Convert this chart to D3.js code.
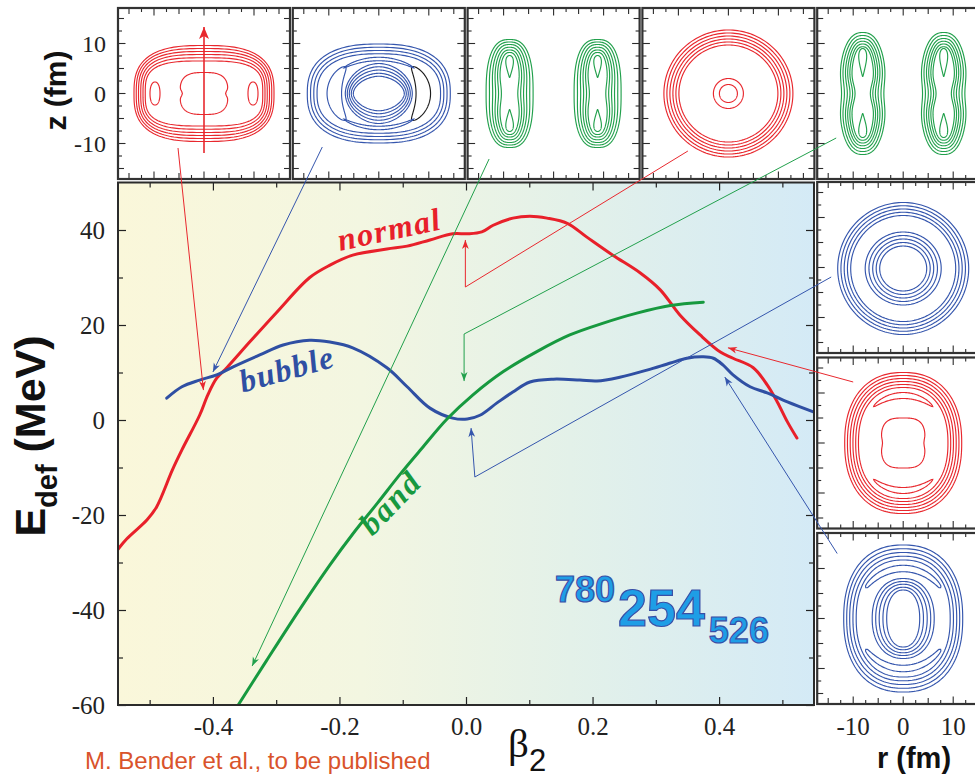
<!DOCTYPE html>
<html>
<head>
<meta charset="utf-8">
<title>Deformation energy curves</title>
<script src="https://cdn.jsdelivr.net/npm/d3@7/dist/d3.min.js"></script>
<style>
  html, body { margin: 0; padding: 0; background: #fff; }
  svg { display: block; }
  text { white-space: pre; }
</style>
</head>
<body>
<svg id="chart" width="975" height="777"></svg>
<script>
// ---------------- energy curves E_def(beta2), MeV ----------------
const normalBeta = [-0.550,-0.536,-0.504,-0.489,-0.464,-0.449,-0.421,-0.408,-0.394,-0.378,-0.342,-0.299,-0.247,-0.215,-0.179,-0.125,-0.093,-0.057,-0.021,0.002,0.025,0.043,0.074,0.101,0.128,0.160,0.191,0.232,0.275,0.307,0.338,0.370,0.402,0.422,0.454,0.476,0.492,0.508,0.523];
const normalE    = [-27.2,-25.0,-21.0,-18.3,-10.5,-6.3,1.0,5.3,8.8,11.0,16.4,22.7,30.0,32.6,34.7,36.0,36.6,37.9,39.2,39.2,39.6,41.0,42.5,42.9,42.5,41.4,38.5,34.7,31.0,27.4,22.1,17.9,14.3,13.0,11.0,7.4,3.8,-0.4,-3.8];

const bubbleBeta = [-0.473,-0.449,-0.421,-0.394,-0.368,-0.326,-0.289,-0.247,-0.215,-0.179,-0.125,-0.093,-0.057,-0.021,0.002,0.022,0.049,0.074,0.101,0.138,0.180,0.207,0.243,0.286,0.323,0.349,0.375,0.391,0.406,0.422,0.449,0.476,0.508,0.549];
const bubbleE    = [4.6,7.0,8.4,9.5,11.2,13.7,15.8,16.8,16.4,15.2,11.0,7.0,2.5,0.4,0.2,1.0,3.6,5.9,8.0,8.6,8.4,8.2,9.0,10.5,12.0,13.0,13.3,13.0,11.6,9.5,7.0,5.7,3.8,1.7];

const bandBeta = [-0.360,-0.315,-0.262,-0.215,-0.179,-0.140,-0.104,-0.070,-0.030,0.011,0.059,0.112,0.164,0.217,0.270,0.323,0.375];
const bandE    = [-60.0,-50.6,-39.7,-30.5,-24.0,-17.5,-11.4,-6.0,0.2,5.3,10.2,14.4,17.9,20.4,22.5,24.1,24.8];

// ---------------- axis ticks ----------------
const xTicks = [-0.4, -0.2, 0.0, 0.2, 0.4];
const xMinorTicks = [-0.5, -0.3, -0.1, 0.1, 0.3, 0.5];
const yTicks = [-60, -40, -20, 0, 20, 40];
const yMinorTicks = [-50, -30, -10, 10, 30];
const panelTicks = [-15, -12.5, -10, -7.5, -5, -2.5, 0, 2.5, 5, 7.5, 10, 12.5, 15];
const panelTickLabels = [-10, 0, 10];

// ---------------- density contours (r, z in fm) ----------------
// ring: superellipse (a, b, exponent n, optional waist w), drop: tear-shaped island,
// arc: crescent following an ellipse between angles t0..t1 (deg)
const shapesOblate = [
  {k:'ring', r:0, z:0, a:14.0,  b:9.6,  n:2.8},
  {k:'ring', r:0, z:0, a:13.55, b:9.0,  n:2.9},
  {k:'ring', r:0, z:0, a:13.1,  b:8.4,  n:3.0},
  {k:'ring', r:0, z:0, a:12.65, b:7.8,  n:3.1},
  {k:'ring', r:0, z:0, a:12.2,  b:7.15, n:3.2},
  {k:'ring', r:0, z:0, a:11.75, b:6.5,  n:3.3},
  {k:'ring', r:-9.8, z:0, a:1.0, b:2.3, n:2.2},
  {k:'ring', r: 9.8, z:0, a:1.0, b:2.3, n:2.2},
  {k:'ring', r:0, z:0, a:4.8, b:4.2, n:3.0, w:0.1, sw:0.03}
];
const shapesBubbleOblate = [
  {k:'ring', r:0, z:0, a:14.3,  b:9.9,  n:2.5},
  {k:'ring', r:0, z:0, a:13.65, b:9.25, n:2.5},
  {k:'ring', r:0, z:0, a:13.0,  b:8.6,  n:2.5},
  {k:'ring', r:0, z:0, a:12.35, b:7.95, n:2.5},
  {k:'arc',  r:0, z:0, a:8.9, b:8.0, t0:138, t1:222, h:1.45},
  {k:'arc',  r:0, z:0, a:8.9, b:8.0, t0:-42, t1:42,  h:1.45, c:'#1d1d1d'},
  {k:'arc',  r:0, z:0, a:10.4, b:6.9, t0:48,  t1:132, h:0.35},
  {k:'arc',  r:0, z:0, a:10.4, b:6.9, t0:228, t1:312, h:0.35},
  {k:'ring', r:0, z:0, a:6.7, b:6.0,  n:1.9},
  {k:'ring', r:0, z:0, a:6.3, b:5.35, n:1.9},
  {k:'ring', r:0, z:0, a:5.9, b:4.7,  n:1.9},
  {k:'ring', r:0, z:0, a:5.5, b:4.05, n:1.85},
  {k:'ring', r:0, z:0, a:5.1, b:3.45, n:1.8}
];
const bandSides = [-8.8, 8.8];
const shapesBandBlob = [
  {k:'ring', z:0, a:4.7,  b:10.8, n:2.6, w:0.0},
  {k:'ring', z:0, a:4.15, b:10.3, n:2.6, w:0.03},
  {k:'ring', z:0, a:3.6,  b:9.8,  n:2.6, w:0.06},
  {k:'ring', z:0, a:3.1,  b:9.25, n:2.6, w:0.1},
  {k:'ring', z:0, a:2.6,  b:8.7,  n:2.6, w:0.15},
  {k:'ring', z:0, a:2.1,  b:8.2,  n:2.6, w:0.22},
  {k:'drop', z:5.4,  a:1.1, b:2.2, p:0.7},
  {k:'drop', z:-5.4, a:1.1, b:2.2, p:-0.7}
];
const shapesSpherical = [
  {k:'ring', r:0, z:0, a:12.9, b:12.7, n:2},
  {k:'ring', r:0, z:0, a:12.3, b:12.1, n:2},
  {k:'ring', r:0, z:0, a:11.7, b:11.5, n:2},
  {k:'ring', r:0, z:0, a:11.1, b:10.9, n:2},
  {k:'ring', r:0, z:0, a:10.5, b:10.3, n:2},
  {k:'ring', r:0, z:0, a:9.9,  b:9.7,  n:2},
  {k:'ring', r:0, z:0, a:3.0,  b:3.0,  n:2},
  {k:'ring', r:0, z:0, a:1.8,  b:1.8,  n:2}
];
const bandProlateSides = [-8.1, 8.1];
const shapesBandProlateBlob = [
  {k:'ring', z:0, a:4.7,  b:12.2,  n:2.4, w:0.10, sw:0.08},
  {k:'ring', z:0, a:4.2,  b:11.6,  n:2.4, w:0.13, sw:0.08},
  {k:'ring', z:0, a:3.7,  b:11.0,  n:2.4, w:0.17, sw:0.08},
  {k:'ring', z:0, a:3.25, b:10.45, n:2.4, w:0.22, sw:0.08},
  {k:'ring', z:0, a:2.8,  b:9.9,   n:2.4, w:0.28, sw:0.08},
  {k:'ring', z:0, a:2.35, b:9.35,  n:2.4, w:0.35, sw:0.08},
  {k:'drop', z:6.2,  a:1.15, b:2.8, p:0.7},
  {k:'drop', z:-6.4, a:1.15, b:2.4, p:-0.7}
];
const shapesBubbleSpherical = [
  {k:'ring', r:0, z:-0.2, a:13.1,  b:13.2,  n:2},
  {k:'ring', r:0, z:-0.2, a:12.45, b:12.55, n:2},
  {k:'ring', r:0, z:-0.2, a:11.8,  b:11.9,  n:2},
  {k:'ring', r:0, z:-0.2, a:11.15, b:11.25, n:2},
  {k:'ring', r:0, z:-0.2, a:10.5,  b:10.6,  n:2},
  {k:'ring', r:0, z:-0.2, a:7.6,   b:7.3,   n:2},
  {k:'ring', r:0, z:-0.2, a:6.85,  b:6.6,   n:2},
  {k:'ring', r:0, z:-0.2, a:6.1,   b:5.9,   n:2},
  {k:'ring', r:0, z:-0.2, a:5.4,   b:5.2,   n:2},
  {k:'ring', r:0, z:-0.2, a:4.7,   b:4.5,   n:2}
];
const shapesProlate = [
  {k:'ring', r:0, z:0, a:11.7,  b:14.1, n:2.3},
  {k:'ring', r:0, z:0, a:11.15, b:13.5, n:2.3},
  {k:'ring', r:0, z:0, a:10.6,  b:12.9, n:2.3},
  {k:'ring', r:0, z:0, a:10.05, b:12.3, n:2.3},
  {k:'ring', r:0, z:0, a:9.5,   b:11.7, n:2.3},
  {k:'ring', r:0, z:0, a:8.95,  b:11.1, n:2.3},
  {k:'arc',  r:0, z:0, a:9.2, b:9.5, t0:50,  t1:130, h:0.6},
  {k:'arc',  r:0, z:0, a:9.2, b:9.5, t0:230, t1:310, h:0.6},
  {k:'ring', r:0, z:0, a:4.4, b:5.0, n:3.2, w:0.06, sw:0.05}
];
const shapesBubbleProlate = [
  {k:'ring', r:0, z:0, a:11.9,  b:14.7,  n:2.3},
  {k:'ring', r:0, z:0, a:11.3,  b:13.95, n:2.3},
  {k:'ring', r:0, z:0, a:10.7,  b:13.2,  n:2.3},
  {k:'ring', r:0, z:0, a:10.05, b:12.45, n:2.3},
  {k:'ring', r:0, z:0, a:9.4,   b:11.7,  n:2.3},
  {k:'arc',  r:0, z:0, a:9.5, b:10.0, t0:38,  t1:142, h:0.65, tp:0.3},
  {k:'arc',  r:0, z:0, a:9.5, b:10.0, t0:218, t1:322, h:0.65, tp:0.3},
  {k:'ring', r:0, z:0, a:6.2,  b:8.0,  n:2.2},
  {k:'ring', r:0, z:0, a:5.5,  b:7.4,  n:2.2},
  {k:'ring', r:0, z:0, a:4.8,  b:6.85, n:2.2},
  {k:'ring', r:0, z:0, a:4.05, b:6.25, n:2.2},
  {k:'ring', r:0, z:0, a:3.3,  b:5.7,  n:2.2}
];

// ---------------- pointers from density panels to the curves ----------------
// from: [panel index, r, z]; via: optional elbow [beta, E]; to: arrow tip [beta, E]
const pointerLinks = [
  {c:'red',   from:[0, -5.2, -10.9],  via:null,          to:[-0.415, 6.3]},
  {c:'red',   from:[3, -8.1, -11.5],  via:[-0.001, 28.0], to:[-0.001, 37.9]},
  {c:'red',   from:[6, -10.0, 12.2],  via:null,          to:[0.414, 15.2]},
  {c:'blue',  from:[1, -11.3, -10.7], via:null,          to:[-0.400, 10.1]},
  {c:'blue',  from:[5, -14.4, -1.9],  via:[0.014, -12.0], to:[0.008, -1.7]},
  {c:'blue',  from:[7, -13.2, 13.0],  via:null,          to:[0.409, 9.05]},
  {c:'green', from:[2, -12.9, -13.1], via:null,          to:[-0.338, -51.8]},
  {c:'green', from:[4, -13.4, -8.9],  via:[-0.003, 18.1], to:[-0.003, 8.2]}
];

// ================= drawing =================
const C = {red:'#e8202a', blue:'#2f4fa3', green:'#17993f'};
const CP = {red:'#e8282e', blue:'#3556ad', green:'#22a04c'};
const serif = "'Liberation Serif', 'Times New Roman', serif";
const sans = "'Liberation Sans', Arial, sans-serif";

const svg = d3.select('#chart');
const defs = svg.append('defs');

const plot = {x0:118, x1:814, y0:182.5, y1:705};
const x = d3.scaleLinear().domain([-0.55, 0.55]).range([plot.x0, plot.x1]);
const y = d3.scaleLinear().domain([-60, 50]).range([plot.y1, plot.y0]);

// background shading of the energy plot
const grad = defs.append('linearGradient').attr('id','bgShade')
  .attr('x1','0%').attr('x2','100%').attr('y1','0%').attr('y2','0%');
[[0,'#faf7da'],[0.35,'#f3f6e1'],[0.65,'#e3f1e9'],[1,'#d4eaf6']].forEach(([o,c]) =>
  grad.append('stop').attr('offset', o).attr('stop-color', c));

defs.append('clipPath').attr('id','plotClip').append('rect')
  .attr('x', plot.x0).attr('y', plot.y0)
  .attr('width', plot.x1 - plot.x0).attr('height', plot.y1 - plot.y0);

svg.append('rect').attr('x', plot.x0).attr('y', plot.y0)
  .attr('width', plot.x1 - plot.x0).attr('height', plot.y1 - plot.y0)
  .attr('fill', 'url(#bgShade)');

// energy curves
const curve = d3.line().x(d => x(d[0])).y(d => y(d[1])).curve(d3.curveCatmullRom.alpha(0.5));
const series = [
  {name:'normal', pts:d3.zip(normalBeta, normalE), color:C.red},
  {name:'bubble', pts:d3.zip(bubbleBeta, bubbleE), color:C.blue},
  {name:'band',   pts:d3.zip(bandBeta, bandE),     color:C.green}
];
svg.append('g').attr('clip-path','url(#plotClip)')
  .selectAll('path').data(series).join('path')
  .attr('d', d => curve(d.pts))
  .attr('fill','none').attr('stroke', d => d.color)
  .attr('stroke-width', 3).attr('stroke-linecap','round').attr('stroke-linejoin','round');

// curve names
const curveLabels = [
  {text:'normal', beta:-0.199, e:35.6, angle:-12,  len:104, color:C.red},
  {text:'bubble', beta:-0.353, e:5.8,  angle:-15.5, len:96,  color:C.blue},
  {text:'band',   beta:-0.148, e:-24.6, angle:-46, len:72,  color:C.green}
];
svg.append('g').selectAll('text').data(curveLabels).join('text')
  .attr('transform', d => `translate(${x(d.beta)},${y(d.e)}) rotate(${d.angle})`)
  .attr('textLength', d => d.len).attr('lengthAdjust','spacing')
  .style('font-family', serif).style('font-style','italic').style('font-weight','bold')
  .style('font-size','32px').attr('fill', d => d.color)
  .text(d => d.text);

// axes (ticks inside the frame on all four sides)
function styleAxis(g) {
  g.attr('font-family', serif).attr('font-size', 25);
  g.select('.domain').remove();
  g.selectAll('.tick line').attr('stroke','#222').attr('stroke-width',1.2);
  g.selectAll('text').style('font-family', serif).style('font-size','25px').attr('fill','#222');
}
const noLabel = () => '';
svg.append('g').attr('transform',`translate(0,${plot.y1})`)
  .call(d3.axisBottom(x).tickValues(xTicks).tickSizeInner(-8).tickSizeOuter(0).tickPadding(12).tickFormat(d => d.toFixed(1)))
  .call(styleAxis);
svg.append('g').attr('transform',`translate(0,${plot.y1})`)
  .call(d3.axisBottom(x).tickValues(xMinorTicks).tickSizeInner(-5).tickSizeOuter(0).tickFormat(noLabel)).call(styleAxis);
svg.append('g').attr('transform',`translate(0,${plot.y0})`)
  .call(d3.axisTop(x).tickValues(xTicks).tickSizeInner(-8).tickSizeOuter(0).tickFormat(noLabel)).call(styleAxis);
svg.append('g').attr('transform',`translate(0,${plot.y0})`)
  .call(d3.axisTop(x).tickValues(xMinorTicks).tickSizeInner(-5).tickSizeOuter(0).tickFormat(noLabel)).call(styleAxis);
svg.append('g').attr('transform',`translate(${plot.x0},0)`)
  .call(d3.axisLeft(y).tickValues(yTicks).tickSizeInner(-8).tickSizeOuter(0).tickPadding(13).tickFormat(d => String(d)))
  .call(styleAxis);
svg.append('g').attr('transform',`translate(${plot.x0},0)`)
  .call(d3.axisLeft(y).tickValues(yMinorTicks).tickSizeInner(-5).tickSizeOuter(0).tickFormat(noLabel)).call(styleAxis);
svg.append('g').attr('transform',`translate(${plot.x1},0)`)
  .call(d3.axisRight(y).tickValues(yTicks).tickSizeInner(-8).tickSizeOuter(0).tickFormat(noLabel)).call(styleAxis);
svg.append('g').attr('transform',`translate(${plot.x1},0)`)
  .call(d3.axisRight(y).tickValues(yMinorTicks).tickSizeInner(-5).tickSizeOuter(0).tickFormat(noLabel)).call(styleAxis);

svg.append('rect').attr('x', plot.x0).attr('y', plot.y0)
  .attr('width', plot.x1 - plot.x0).attr('height', plot.y1 - plot.y0)
  .attr('fill','none').attr('stroke','#2b2b2b').attr('stroke-width',2);

// nucleus label
const nuc = svg.append('text').attr('x', 555).attr('y', 602)
  .style('font-family', sans).style('font-weight','bold')
  .attr('fill','#1e9ee6').attr('stroke','#3a4ea6').attr('stroke-width',1.2);
nuc.append('tspan').style('font-size','36px').text('780');
nuc.append('tspan').attr('dx',3).attr('dy',24).style('font-size','52px').text('254');
nuc.append('tspan').attr('dx',4).attr('dy',17).style('font-size','36px').text('526');

// axis titles and credit
const eTitle = svg.append('text').attr('transform','translate(45,436) rotate(-90)')
  .attr('text-anchor','middle').style('font-family', sans).style('font-weight','bold')
  .style('font-size','43px').attr('fill','#111');
eTitle.append('tspan').text('E');
eTitle.append('tspan').attr('dy',12).style('font-size','29px').text('def');
eTitle.append('tspan').attr('dy',-12).text(' (MeV)');

const bTitle = svg.append('text').attr('x',508).attr('y',757).attr('fill','#111');
bTitle.append('tspan').style('font-family', serif).style('font-size','41px').text('β');
bTitle.append('tspan').attr('dy',14).style('font-family', sans).style('font-size','31px').text('2');

svg.append('text').attr('x',85).attr('y',769)
  .style('font-family', sans).style('font-size','24px').attr('fill','#d9532b')
  .text('M. Bender et al., to be published');

// ---------------- density panels ----------------
function shapePoints(s) {
  const pts = [];
  if (s.k === 'ring' || s.k === 'drop') {
    const N = 180, n = s.n || 2, w = s.w || 0, sw = s.sw || 0.12, p = s.p || 0;
    for (let i = 0; i < N; i++) {
      const t = 2 * Math.PI * i / N, c = Math.cos(t), si = Math.sin(t);
      const dz = s.b * Math.sign(si) * Math.pow(Math.abs(si), 2 / n);
      let dx = s.a * Math.sign(c) * Math.pow(Math.abs(c), 2 / n);
      if (w) dx *= 1 - w * Math.exp(-Math.pow(dz / s.b, 2) / sw);
      if (p) dx *= (1 + p * si) / (1 + Math.abs(p));
      pts.push([s.r + dx, s.z + dz]);
    }
  } else if (s.k === 'arc') {
    const M = 80, t0 = s.t0 * Math.PI / 180, t1 = s.t1 * Math.PI / 180, tp = s.tp || 0.55;
    const outer = [], inner = [];
    for (let i = 0; i <= M; i++) {
      const u = i / M, t = t0 + (t1 - t0) * u;
      const h = s.h * Math.pow(Math.sin(Math.PI * u), tp);
      const c = Math.cos(t), si = Math.sin(t);
      outer.push([s.r + (s.a + h) * c, s.z + (s.b + h) * si]);
      inner.push([s.r + (s.a - h) * c, s.z + (s.b - h) * si]);
    }
    pts.push(...outer, ...inner.reverse());
  }
  return pts;
}
const mirrored = (sides, blob) => sides.flatMap(r => blob.map(s => Object.assign({r}, s)));

const PW = 172, PH = 171;
const panels = [
  {shapes: shapesOblate,                                        color: CP.red},
  {shapes: shapesBubbleOblate,                                  color: CP.blue},
  {shapes: mirrored(bandSides, shapesBandBlob),                 color: CP.green},
  {shapes: shapesSpherical,                                     color: CP.red},
  {shapes: mirrored(bandProlateSides, shapesBandProlateBlob),   color: CP.green},
  {shapes: shapesBubbleSpherical,                               color: CP.blue},
  {shapes: shapesProlate,                                       color: CP.red},
  {shapes: shapesBubbleProlate,                                 color: CP.blue}
];
panels.forEach((p, i) => {
  p.x = i < 5 ? 118 + i * 174.8 : 817.2;
  p.y = i < 5 ? 8 : 182 + (i - 5) * 175.5;
  p.rs = d3.scaleLinear().domain([-17.2, 17.2]).range([p.x, p.x + PW]);
  p.zs = d3.scaleLinear().domain([-17.1, 17.1]).range([p.y + PH, p.y]);
});

const tickLen = v => (v % 10 === 0 ? 7.5 : (v % 5 === 0 ? 6 : 4));
panels.forEach(p => {
  const g = svg.append('g');
  g.append('rect').attr('x', p.x).attr('y', p.y).attr('width', PW).attr('height', PH).attr('fill', '#fff');
  const line = d3.line().x(d => p.rs(d[0])).y(d => p.zs(d[1])).curve(d3.curveLinearClosed);
  g.selectAll('path').data(p.shapes).join('path')
    .attr('d', s => line(shapePoints(s)))
    .attr('fill', 'none').attr('stroke', s => s.c || p.color).attr('stroke-width', 1.15);
  const tg = g.append('g').attr('stroke', '#2b2b2b').attr('stroke-width', 1.1);
  panelTicks.forEach(v => {
    const L = tickLen(v), px = p.rs(v), pz = p.zs(v);
    tg.append('line').attr('x1', px).attr('x2', px).attr('y1', p.y).attr('y2', p.y + L);
    tg.append('line').attr('x1', px).attr('x2', px).attr('y1', p.y + PH).attr('y2', p.y + PH - L);
    tg.append('line').attr('y1', pz).attr('y2', pz).attr('x1', p.x).attr('x2', p.x + L);
    tg.append('line').attr('y1', pz).attr('y2', pz).attr('x1', p.x + PW).attr('x2', p.x + PW - L);
  });
  g.append('rect').attr('x', p.x).attr('y', p.y).attr('width', PW).attr('height', PH)
    .attr('fill', 'none').attr('stroke', '#333').attr('stroke-width', 2.2);
});

// panel axis labels (z on the first panel, r under the last one)
const p0 = panels[0], pLast = panels[7];
svg.append('g').selectAll('text').data(panelTickLabels).join('text')
  .attr('x', p0.x - 12).attr('y', d => p0.zs(d)).attr('dy','0.34em').attr('text-anchor','end')
  .style('font-family', serif).style('font-size','24px').attr('fill','#222')
  .text(d => String(d));
svg.append('g').selectAll('text').data(panelTickLabels).join('text')
  .attr('x', d => pLast.rs(d)).attr('y', 735).attr('text-anchor','middle')
  .style('font-family', serif).style('font-size','25px').attr('fill','#222')
  .text(d => String(d));
svg.append('text').attr('transform', `translate(66,${p0.zs(0) - 3}) rotate(-90)`).attr('text-anchor','middle')
  .style('font-family', sans).style('font-weight','bold').style('font-size','30px').attr('fill','#111')
  .text('z (fm)');
svg.append('text').attr('x', 914).attr('y', 768).attr('text-anchor','middle')
  .style('font-family', sans).style('font-weight','bold').style('font-size','29px').attr('fill','#111')
  .text('r (fm)');

// arrow heads
Object.entries(CP).forEach(([k, col]) => {
  defs.append('marker').attr('id', 'head-' + k)
    .attr('viewBox', '-10 -5 11 10').attr('refX', 0).attr('refY', 0)
    .attr('markerWidth', 11).attr('markerHeight', 10).attr('markerUnits', 'userSpaceOnUse')
    .attr('orient', 'auto')
    .append('path').attr('d', 'M0,0 L-9,-3.4 L-6.5,0 L-9,3.4 Z').attr('fill', col);
});
defs.append('marker').attr('id', 'head-big')
  .attr('viewBox', '-13 -6 14 12').attr('refX', 0).attr('refY', 0)
  .attr('markerWidth', 14).attr('markerHeight', 12).attr('markerUnits', 'userSpaceOnUse')
  .attr('orient', 'auto')
  .append('path').attr('d', 'M0,0 L-12,-5 L-9,0 L-12,5 Z').attr('fill', CP.red);

// vertical arrow inside the first panel
svg.append('path')
  .attr('d', d3.line()([[p0.rs(0), p0.zs(-11.9)], [p0.rs(0), p0.zs(13.3)]]))
  .attr('stroke', CP.red).attr('stroke-width', 1.6).attr('fill', 'none')
  .attr('marker-end', 'url(#head-big)');

// pointers from panels to curves
const pline = d3.line();
svg.append('g').selectAll('path').data(pointerLinks).join('path')
  .attr('d', d => {
    const p = panels[d.from[0]];
    const pts = [[p.rs(d.from[1]), p.zs(d.from[2])]];
    if (d.via) pts.push([x(d.via[0]), y(d.via[1])]);
    pts.push([x(d.to[0]), y(d.to[1])]);
    return pline(pts);
  })
  .attr('fill', 'none').attr('stroke', d => CP[d.c]).attr('stroke-width', 1)
  .attr('marker-end', d => `url(#head-${d.c})`);
</script>
</body>
</html>
